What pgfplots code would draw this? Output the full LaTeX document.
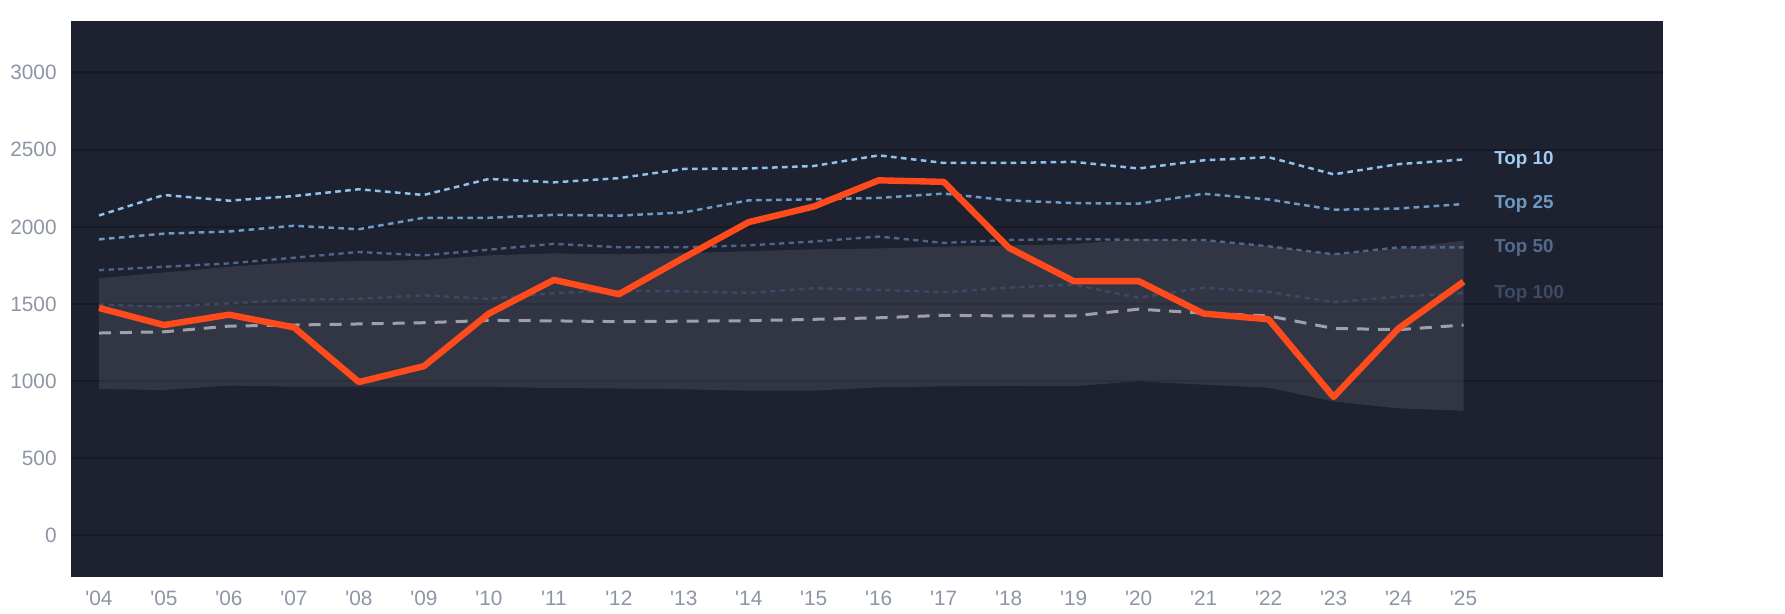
\documentclass[border=0pt]{standalone}
\usepackage{fontspec}
\setmainfont{Liberation Sans}[Ligatures=TeXOff]
\usepackage{pgfplots}
\pgfplotsset{compat=1.18}
\usepackage{pgfplotstable}
\usepgfplotslibrary{fillbetween}

\definecolor{bgcol}{RGB}{29,33,48}
\definecolor{gridcol}{RGB}{23,26,38}
\definecolor{orangec}{RGB}{255,74,28}
\definecolor{ctten}{RGB}{142,195,235}
\definecolor{cttf}{RGB}{108,155,198}
\definecolor{ctfifty}{RGB}{79,102,136}
\definecolor{cthund}{RGB}{61,73,100}
\definecolor{cmed}{RGB}{158,161,170}
\definecolor{ticklab}{RGB}{141,149,165}
\definecolor{lten}{RGB}{160,204,240}
\definecolor{ltf}{RGB}{110,154,194}
\definecolor{lfifty}{RGB}{85,106,138}
\definecolor{lhund}{RGB}{62,74,99}

\pgfplotstableread{
x  orange  tten  ttf   tfifty thund  med   lo    hi
0  1474    2074  1919  1719   1496   1311  948   1667
1  1363    2207  1956  1741   1481   1319  941   1704
2  1430    2170  1970  1763   1504   1356  970   1741
3  1348    2200  2007  1800   1526   1363  963   1770
4  993     2244  1985  1837   1533   1370  963   1778
5  1096    2207  2059  1815   1556   1378  963   1785
6  1437    2311  2059  1852   1533   1393  963   1815
7  1656    2289  2078  1890   1570   1390  954   1828
8  1563    2316  2073  1868   1586   1385  951   1822
9  1800    2376  2094  1868   1581   1388  946   1830
10 2031    2379  2172  1880   1572   1391  937   1842
11 2132    2395  2179  1905   1602   1400  937   1854
12 2302    2464  2188  1937   1591   1410  958   1860
13 2292    2415  2216  1896   1576   1426  965   1872
14 1865    2415  2172  1915   1606   1422  968   1880
15 1648    2422  2154  1921   1625   1422  966   1888
16 1648    2379  2151  1915   1540   1466  998   1922
17 1437    2432  2215  1915   1605   1440  976   1910
18 1400    2452  2178  1874   1578   1422  956   1874
19 896     2341  2111  1822   1511   1341  867   1822
20 1341    2407  2119  1867   1548   1333  822   1859
21 1644    2437  2148  1867   1570   1363  807   1911
}\datatable

\begin{document}
\begin{tikzpicture}
\begin{axis}[
  at={(35.3pt,18.5pt)}, anchor=south west,
  scale only axis, width=796.2pt, height=278pt,
  xmin=-0.437, xmax=24.07, ymin=-272, ymax=3336,
  axis background/.style={fill=bgcol},
  axis line style={draw=none},
  major tick length=0pt,
  xtick={0,...,21},
  xticklabels={'04,'05,'06,'07,'08,'09,'10,'11,'12,'13,'14,'15,'16,'17,'18,'19,'20,'21,'22,'23,'24,'25},
  ytick={0,500,1000,1500,2000,2500,3000},
  ymajorgrids,
  major grid style={color=gridcol, line width=1.3pt},
  tick label style={font=\fontsize{10.4pt}{12pt}\selectfont, text=ticklab},
  yticklabel style={anchor=east, inner sep=0pt, xshift=-6.8pt},
  xticklabel style={anchor=north, inner sep=0pt, yshift=-7pt},
  /pgf/number format/assume math mode=true,
  /pgf/number format/1000 sep={},
  clip=false,
]
\addplot[draw=none, name path=hi, forget plot] table[x=x,y=hi] {\datatable};
\addplot[draw=none, name path=lo, forget plot] table[x=x,y=lo] {\datatable};
\addplot[fill=white, fill opacity=0.095, draw=none] fill between[of=hi and lo];

\addplot[cthund, line width=1.2pt, dash pattern=on 2.6pt off 2.2pt] table[x=x,y=thund] {\datatable};
\addplot[ctfifty, line width=1.2pt, dash pattern=on 2.6pt off 2.2pt] table[x=x,y=tfifty] {\datatable};
\addplot[cttf, line width=1.25pt, dash pattern=on 2.8pt off 2.2pt] table[x=x,y=ttf] {\datatable};
\addplot[ctten, line width=1.25pt, dash pattern=on 2.8pt off 2.2pt] table[x=x,y=tten] {\datatable};
\addplot[cmed, line width=1.5pt, dash pattern=on 6pt off 4.5pt] table[x=x,y=med] {\datatable};
\addplot[orangec, line width=3.2pt, line join=round] table[x=x,y=orange] {\datatable};

\node[anchor=west, inner sep=0pt, xshift=15.2pt, text=lten, font=\fontsize{9.4pt}{11pt}\selectfont\bfseries] at (axis cs:21,2437) {Top 10};
\node[anchor=west, inner sep=0pt, xshift=15.2pt, text=ltf, font=\fontsize{9.4pt}{11pt}\selectfont\bfseries] at (axis cs:21,2148) {Top 25};
\node[anchor=west, inner sep=0pt, xshift=15.2pt, text=lfifty, font=\fontsize{9.4pt}{11pt}\selectfont\bfseries] at (axis cs:21,1862) {Top 50};
\node[anchor=west, inner sep=0pt, xshift=15.2pt, text=lhund, font=\fontsize{9.4pt}{11pt}\selectfont\bfseries] at (axis cs:21,1565) {Top 100};
\end{axis}
\path (0,0) rectangle (892.5pt,307pt);
\end{tikzpicture}
\end{document}
